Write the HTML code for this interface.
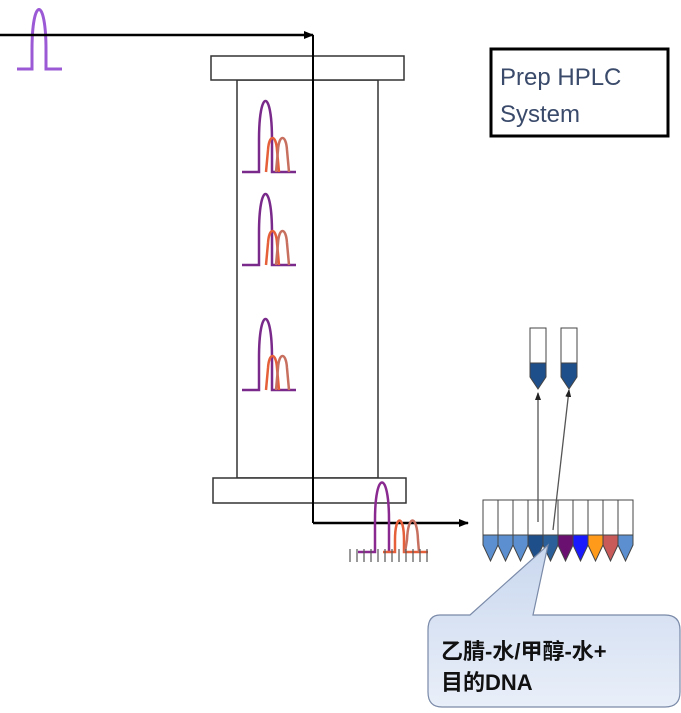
<!DOCTYPE html>
<html><head><meta charset="utf-8"><style>
html,body{margin:0;padding:0;background:#fff;width:681px;height:713px;overflow:hidden}
svg{display:block}
</style></head><body>
<svg width="681" height="713" viewBox="0 0 681 713" xmlns="http://www.w3.org/2000/svg">
<defs>
<marker id="ah" markerWidth="10" markerHeight="8" refX="9" refY="4" orient="auto" markerUnits="userSpaceOnUse"><path d="M0,0 L10,4 L0,8 Z" fill="#000"/></marker>
<marker id="ah2" markerWidth="8" markerHeight="6" refX="7" refY="3" orient="auto" markerUnits="userSpaceOnUse"><path d="M0,0 L8,3 L0,6 Z" fill="#222"/></marker>
<linearGradient id="cg" x1="0" y1="0" x2="0" y2="1"><stop offset="0" stop-color="#c9d7ee"/><stop offset="1" stop-color="#e9eff9"/></linearGradient>
</defs>
<path d="M17,69 L32,69 L32,50 C32,-4 46,-4 46,50 L46,69 L62,69" fill="none" stroke="#9b59d6" stroke-width="3"/>
<rect x="237" y="80" width="141" height="398" fill="#fff" stroke="#333" stroke-width="1.5"/>
<rect x="211" y="56" width="193" height="24" fill="#fff" stroke="#333" stroke-width="1.5"/>
<rect x="213" y="478" width="193" height="25" fill="#fff" stroke="#333" stroke-width="1.5"/>
<line x1="0" y1="35" x2="313" y2="35" stroke="#000" stroke-width="2.5" marker-end="url(#ah)"/>
<line x1="313" y1="35" x2="313" y2="523" stroke="#000" stroke-width="2"/>
<line x1="313" y1="523" x2="468" y2="523" stroke="#000" stroke-width="2.5" marker-end="url(#ah)"/>
<g fill="none" stroke-width="2.5">
<g>
<path d="M242,172 L259,172 L259,140 C259,88 272,88 272,140 L272,172 L296,172" stroke="#7a2a8a"/>
<path d="M266,172 L268,150 C269,134 276,134 277,150 L279,172" stroke="#e5603a"/>
<path d="M276,172 L278,150 C279,134 286,134 287,150 L289,172" stroke="#c87060"/>
</g>
<g transform="translate(0,93)">
<path d="M242,172 L259,172 L259,140 C259,88 272,88 272,140 L272,172 L296,172" stroke="#7a2a8a"/>
<path d="M266,172 L268,150 C269,134 276,134 277,150 L279,172" stroke="#e5603a"/>
<path d="M276,172 L278,150 C279,134 286,134 287,150 L289,172" stroke="#c87060"/>
</g>
<g transform="translate(0,218)">
<path d="M242,172 L259,172 L259,140 C259,88 272,88 272,140 L272,172 L296,172" stroke="#7a2a8a"/>
<path d="M266,172 L268,150 C269,134 276,134 277,150 L279,172" stroke="#e5603a"/>
<path d="M276,172 L278,150 C279,134 286,134 287,150 L289,172" stroke="#c87060"/>
</g>
<path d="M358,552 L375,552 L375,520 C375,470 389,470 389,520 L389,552" stroke="#8a2a90"/>
<path d="M383,552 L395,552 L395,540 C395,514 404,514 404,540 L404,552 L428,552" stroke="#e5603a"/>
<path d="M405,552 L407,540 C408,514 417,514 418,540 L419,552" stroke="#c87060"/>
</g>
<g stroke="#555" stroke-width="1.2">
<line x1="350" y1="549" x2="350" y2="562"/><line x1="357" y1="549" x2="357" y2="562"/>
<line x1="364" y1="549" x2="364" y2="562"/><line x1="371" y1="549" x2="371" y2="562"/>
<line x1="378" y1="549" x2="378" y2="562"/><line x1="385" y1="549" x2="385" y2="562"/>
<line x1="392" y1="549" x2="392" y2="562"/><line x1="399" y1="549" x2="399" y2="562"/>
<line x1="406" y1="549" x2="406" y2="562"/><line x1="413" y1="549" x2="413" y2="562"/>
<line x1="420" y1="549" x2="420" y2="562"/><line x1="427" y1="549" x2="427" y2="562"/>
</g>
<g stroke="#444" stroke-width="1">
<rect x="483" y="500" width="15" height="35" fill="#fff"/>
<rect x="498" y="500" width="15" height="35" fill="#fff"/>
<rect x="513" y="500" width="15" height="35" fill="#fff"/>
<rect x="528" y="500" width="15" height="35" fill="#fff"/>
<rect x="543" y="500" width="15" height="35" fill="#fff"/>
<rect x="558" y="500" width="15" height="35" fill="#fff"/>
<rect x="573" y="500" width="15" height="35" fill="#fff"/>
<rect x="588" y="500" width="15" height="35" fill="#fff"/>
<rect x="603" y="500" width="15" height="35" fill="#fff"/>
<rect x="618" y="500" width="15" height="35" fill="#fff"/>
<path d="M483,535 h15 v10 l-7.5,16 l-7.5,-16 z" fill="#5b8fd0"/>
<path d="M498,535 h15 v10 l-7.5,16 l-7.5,-16 z" fill="#5b8fd0"/>
<path d="M513,535 h15 v10 l-7.5,16 l-7.5,-16 z" fill="#5b8fd0"/>
<path d="M528,535 h15 v10 l-7.5,16 l-7.5,-16 z" fill="#1f4f8a"/>
<path d="M543,535 h15 v10 l-7.5,16 l-7.5,-16 z" fill="#2a5f9a"/>
<path d="M558,535 h15 v10 l-7.5,16 l-7.5,-16 z" fill="#6a1070"/>
<path d="M573,535 h15 v10 l-7.5,16 l-7.5,-16 z" fill="#1a1aff"/>
<path d="M588,535 h15 v10 l-7.5,16 l-7.5,-16 z" fill="#ff9a1a"/>
<path d="M603,535 h15 v10 l-7.5,16 l-7.5,-16 z" fill="#c85a5a"/>
<path d="M618,535 h15 v10 l-7.5,16 l-7.5,-16 z" fill="#5b8fd0"/>
</g>
<g stroke="#444" stroke-width="1">
<path d="M530,328 h16 v35 h-16 z" fill="#fff"/>
<path d="M530,363 h16 v14 l-8,12 l-8,-12 z" fill="#1f4f8a"/>
<path d="M561,328 h16 v35 h-16 z" fill="#fff"/>
<path d="M561,363 h16 v14 l-8,12 l-8,-12 z" fill="#1f4f8a"/>
</g>
<line x1="538" y1="522" x2="538" y2="393" stroke="#555" stroke-width="1.3" marker-end="url(#ah2)"/>
<line x1="553" y1="530" x2="569" y2="390" stroke="#555" stroke-width="1.3" marker-end="url(#ah2)"/>
<rect x="491" y="49" width="177" height="87" fill="#fff" stroke="#000" stroke-width="3"/>
<text x="500" y="85" font-family="Liberation Sans, sans-serif" font-size="24" fill="#3a4a6a">Prep HPLC</text>
<text x="500" y="122" font-family="Liberation Sans, sans-serif" font-size="24" fill="#3a4a6a">System</text>
<path d="M440,615 L470,615 L548,545 L533,615 L665,615 Q680,615 680,630 L680,692 Q680,707 665,707 L442,707 Q428,707 428,692 L428,630 Q428,615 440,615 Z" fill="url(#cg)" stroke="#7a8aa8" stroke-width="1.2"/>
<text x="441" y="659" font-family="Liberation Sans, 'Noto Sans CJK SC', sans-serif" font-size="22" font-weight="bold" fill="#111">乙腈-水/甲醇-水+</text>
<text x="441" y="690" font-family="Liberation Sans, 'Noto Sans CJK SC', sans-serif" font-size="22" font-weight="bold" fill="#111">目的DNA</text>
</svg>
</body></html>
